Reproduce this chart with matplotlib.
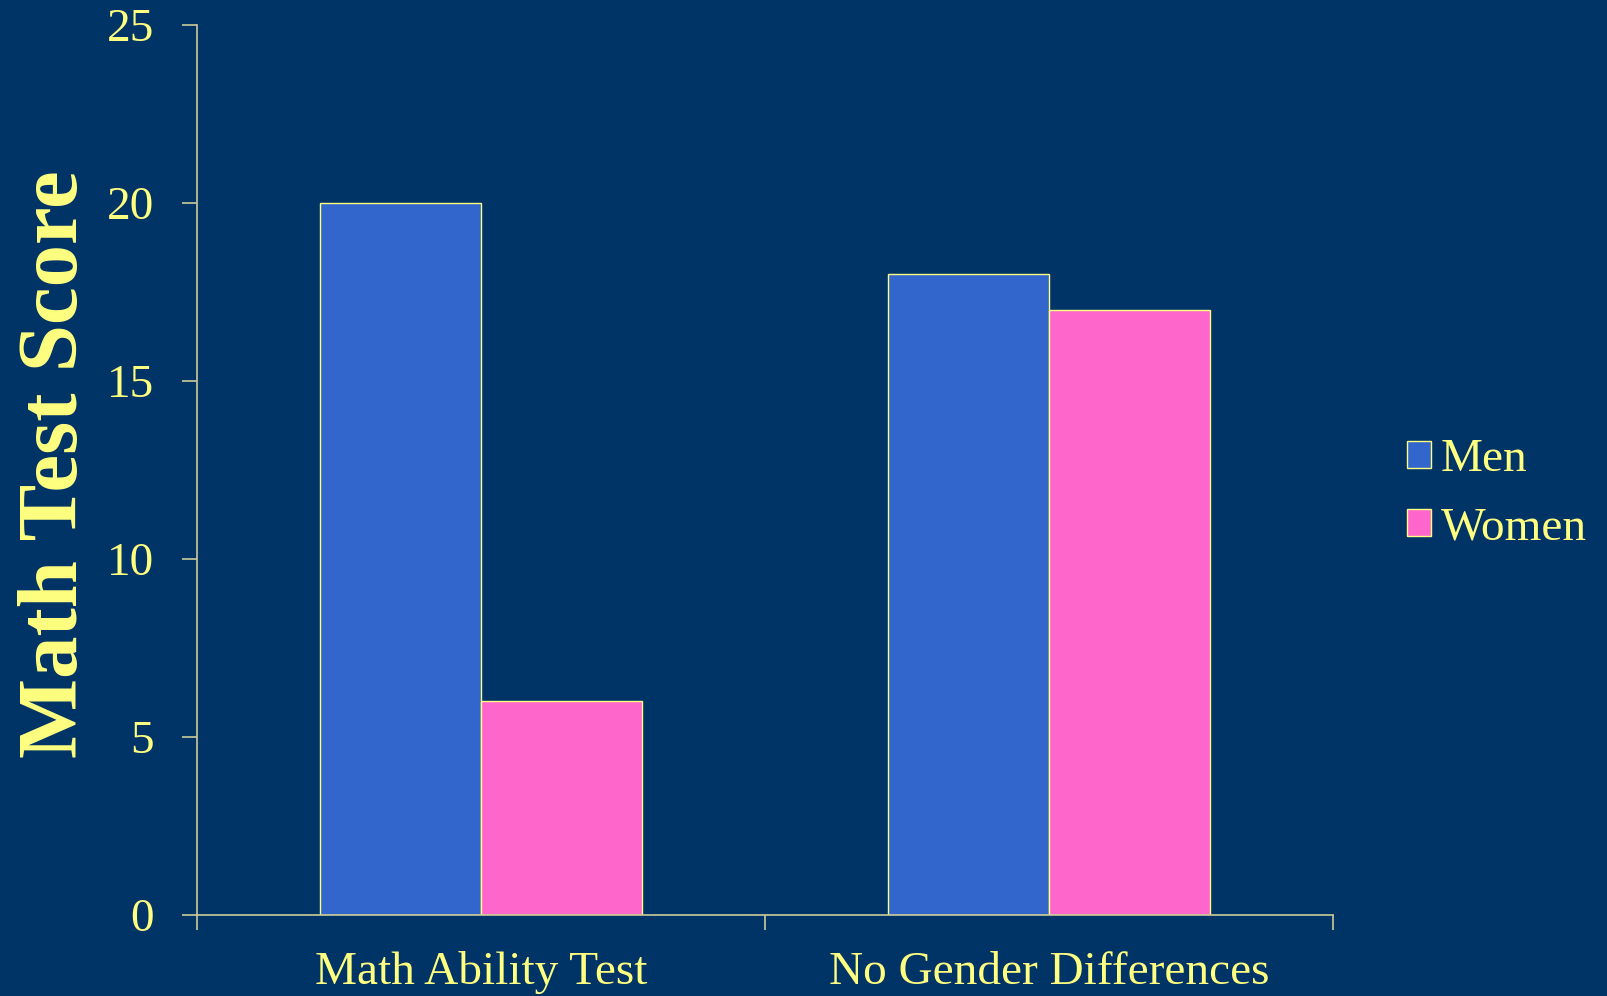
import numpy as np
import matplotlib.pyplot as plt

# Data
categories = ['Math Ability Test', 'No Gender Differences']
men = [20, 18]
women = [6, 17]
y_ticks = [0, 5, 10, 15, 20, 25]

bg = '#003366'
txt = '#FFFF80'
axis_col = '#CCCC99'

plt.rcParams['font.family'] = ['Liberation Serif', 'DejaVu Serif']

fig = plt.figure(figsize=(16.08, 9.96), dpi=100, facecolor=bg)
ax = fig.add_axes([197 / 1608, 1 - 915 / 996, 1136 / 1608, 890 / 996])
ax.set_facecolor(bg)

x = np.arange(len(categories))
w = 0.2835
ax.bar(x - w / 2, men, w, color='#3366CC', edgecolor=txt, linewidth=1, label='Men')
ax.bar(x + w / 2, women, w, color='#FF66CC', edgecolor=txt, linewidth=1, label='Women')

ax.set_xlim(-0.5, 1.5)
ax.set_ylim(0, 25)
ax.set_yticks(y_ticks)
ax.set_xticks(x)
ax.set_xticklabels(categories)
# ticks on the category boundaries
ax.set_xticks([-0.5, 0.5, 1.5], minor=True)
ax.tick_params(axis='x', which='major', length=0, pad=26, labelsize=34, labelcolor=txt)
ax.tick_params(axis='x', which='minor', length=11, width=1.2, color=axis_col, direction='out')
ax.tick_params(axis='y', length=11, width=1.2, color=axis_col, pad=20, labelsize=34, labelcolor=txt)

for s in ['top', 'right']:
    ax.spines[s].set_visible(False)
for s in ['left', 'bottom']:
    ax.spines[s].set_color(axis_col)
    ax.spines[s].set_linewidth(1.2)

fig.text(57 / 1608, 1 - 464 / 996, 'Math Test Score', rotation=90, ha='center', va='center',
         fontsize=61, fontweight='bold', color=txt)

leg = fig.legend(loc='center left', bbox_to_anchor=(1407 / 1608, 1 - 494 / 996), frameon=False,
                 fontsize=34, labelcolor=txt, handlelength=0.5, handleheight=0.5,
                 handletextpad=0.21, borderpad=0, borderaxespad=0, labelspacing=0.55)

plt.savefig('out.png', facecolor=bg)
